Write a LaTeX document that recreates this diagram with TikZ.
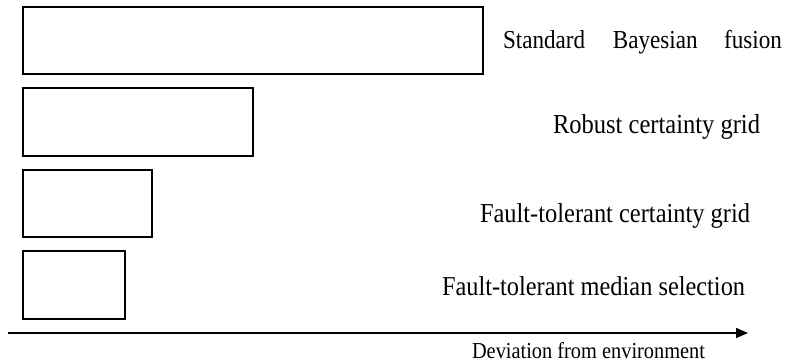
\documentclass[tikz,border=0pt]{standalone}
\usepackage{fontspec}
\setmainfont{Liberation Serif}
\usetikzlibrary{arrows.meta}
\newcommand{\fitw}[2]{\resizebox{#1}{!}{\scalebox{1}[1.12]{#2}}}
\tikzset{
  bar/.style={draw, line width=1.3pt, anchor=north west, inner sep=0pt, outer sep=0pt},
  lbl/.style={anchor=base west, inner sep=0pt, outer sep=0pt},
  axis/.style={line width=1.6pt, -{Triangle[length=12pt,width=10pt]}}
}
\begin{document}
\begin{tikzpicture}[x=1pt,y=-1pt]
\useasboundingbox (0,0) rectangle (785,362);
\node[bar, minimum width=460pt, minimum height=67pt] (b1) at (23,7) {};
\node[bar, minimum width=230pt, minimum height=68pt] (b2) at (23,88) {};
\node[bar, minimum width=129pt, minimum height=67pt] (b3) at (23,170) {};
\node[bar, minimum width=102pt, minimum height=68pt] (b4) at (23,251) {};
\node[lbl] (t1) at (503,48) {\fitw{279pt}{Standard\hspace{1.2em}Bayesian\hspace{1.15em}fusion}};
\node[lbl] (t2) at (553,133) {\fitw{207pt}{Robust certainty grid}};
\node[lbl] (t3) at (480,222) {\fitw{270pt}{Fault-tolerant certainty grid}};
\node[lbl] (t4) at (442,295) {\fitw{303pt}{Fault-tolerant median selection}};
\coordinate (axs) at (8,333);
\coordinate (axe) at (748,333);
\draw[axis] (axs) -- (axe);
\node[lbl] (xl) at (472,358) {\fitw{233pt}{Deviation from environment}};
\end{tikzpicture}
\end{document}
